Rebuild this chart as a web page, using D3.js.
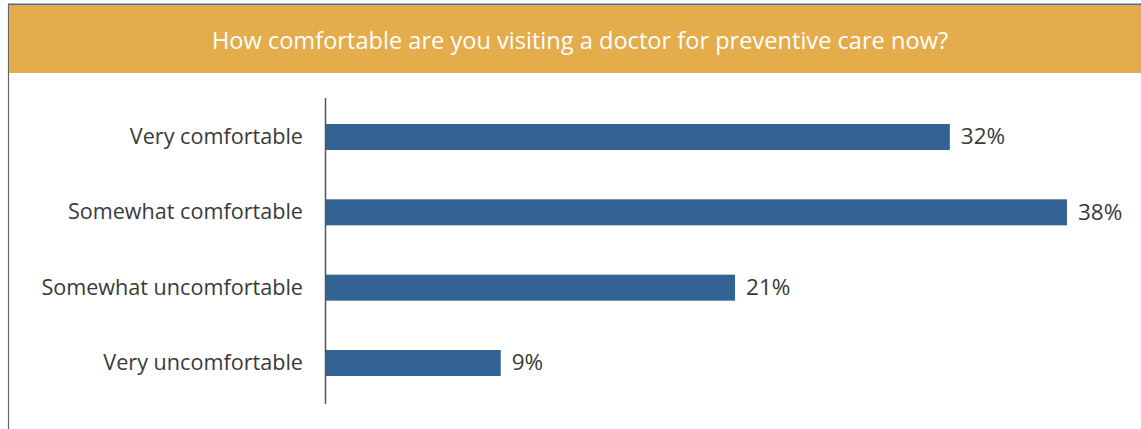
<!DOCTYPE html>
<html>
<head>
<meta charset="utf-8">
<script src="https://cdn.jsdelivr.net/npm/d3@7"></script>
<style>
  html, body { margin: 0; padding: 0; background: #fff; }
  svg { display: block; }
</style>
</head>
<body>
<svg id="chart" width="1141" height="429"></svg>
<script>
const title = "How comfortable are you visiting a doctor for preventive care now?";
const categories = ["Very comfortable", "Somewhat comfortable", "Somewhat uncomfortable", "Very uncomfortable"];
const values = [32, 38, 21, 9];
const valueLabels = ["32%", "38%", "21%", "9%"];

const W = 1141, H = 429;
const svg = d3.select("#chart");
const font = "'Open Sans', 'Noto Sans', sans-serif";

// frame: top rule and left rule
svg.append("line").attr("x1", 8).attr("x2", W).attr("y1", 4.5).attr("y2", 4.5)
  .attr("stroke", "#666").attr("stroke-width", 2);
svg.append("line").attr("x1", 8.5).attr("x2", 8.5).attr("y1", 4).attr("y2", H)
  .attr("stroke", "#666").attr("stroke-width", 1.2);

// header band
svg.append("rect").attr("x", 9).attr("y", 6).attr("width", W - 9).attr("height", 67)
  .attr("fill", "#E5AC4C");
svg.append("text").attr("x", 580).attr("y", 48.5)
  .attr("text-anchor", "middle").attr("fill", "#fff")
  .style("font-family", font).style("font-size", "23.6px")
  .text(title);

// scales
const x = d3.scaleLinear().domain([0, 38]).range([325, 1067]);
const y = d3.scaleBand().domain(categories).range([124, 376]).paddingInner(0.655).paddingOuter(0);

// bars
svg.selectAll("rect.bar").data(categories).join("rect")
  .attr("class", "bar")
  .attr("x", x(0))
  .attr("y", d => y(d))
  .attr("width", (d, i) => x(values[i]) - x(0))
  .attr("height", y.bandwidth())
  .attr("fill", "#336394");

// category axis
const axis = d3.axisLeft(y).tickSize(0).tickPadding(22);
const g = svg.append("g").attr("transform", `translate(${x(0)},0)`).call(axis);
g.select(".domain").remove();
g.selectAll("text")
  .attr("dy", "0.33em")
  .style("font-family", font).style("font-size", "21.6px").attr("fill", "#3a3a3a");
svg.append("line").attr("x1", x(0) + 0.5).attr("x2", x(0) + 0.5).attr("y1", 98).attr("y2", 404)
  .attr("stroke", "#555").attr("stroke-width", 1.5);

// value labels
svg.selectAll("text.val").data(categories).join("text")
  .attr("class", "val")
  .attr("x", (d, i) => x(values[i]) + 11)
  .attr("y", d => y(d) + y.bandwidth() / 2)
  .attr("dy", "0.33em")
  .attr("fill", "#3a3a3a")
  .style("font-family", font).style("font-size", "22.5px")
  .text((d, i) => valueLabels[i]);
</script>
</body>
</html>
